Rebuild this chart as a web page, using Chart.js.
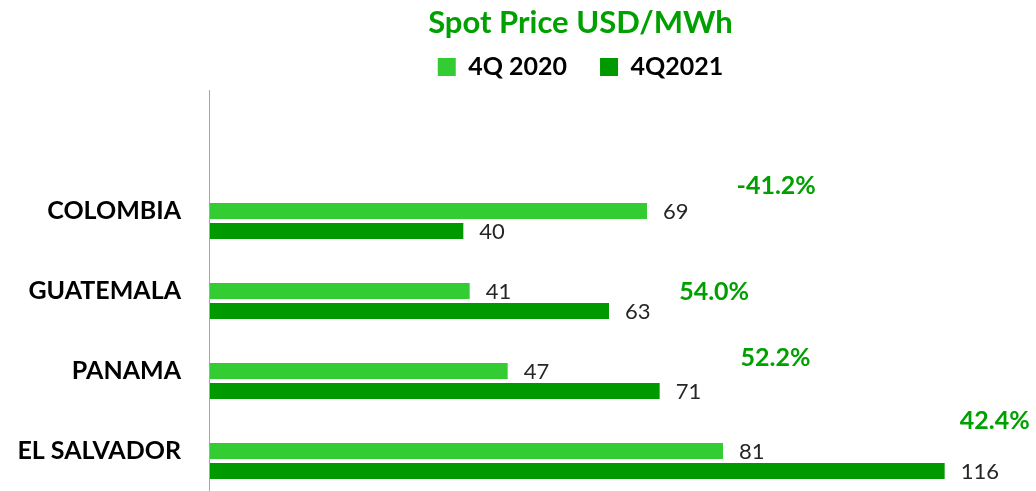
<!DOCTYPE html>
<html>
<head>
<meta charset="utf-8">
<script src="https://cdn.jsdelivr.net/npm/chart.js@4.4.1/dist/chart.umd.min.js"></script>
<style>
  html, body { margin: 0; padding: 0; background: #fff; }
  #wrap { width: 1036px; height: 491px; }
</style>
</head>
<body>
<div id="wrap"><canvas id="spotChart"></canvas></div>
<script>
const categories = ['COLOMBIA', 'GUATEMALA', 'PANAMA', 'EL SALVADOR'];
const price2020 = [69, 41, 47, 81];
const price2021 = [40, 63, 71, 116];
const changeLabels = ['-41.2%', '54.0%', '52.2%', '42.4%'];

// placement of the % labels (x in USD/MWh, y offset in px from category centre)
const changeAtX = [89.4, 79.6, 89.3, 123.9];
const changeDy = [-25, 1, -13, -30];

const GREEN_TEXT = '#00A000';

// draws the axis line, the bar values and the % change labels
const labelsPlugin = {
    id: 'barLabels',
    afterDatasetsDraw(chart) {
        const ctx = chart.ctx;
        const { left, bottom } = chart.chartArea;
        ctx.save();

        ctx.strokeStyle = '#A6A6A6';
        ctx.lineWidth = 1;
        ctx.beginPath();
        ctx.moveTo(left - 0.5, 90);
        ctx.lineTo(left - 0.5, bottom);
        ctx.stroke();

        ctx.font = '22px Lato';
        ctx.fillStyle = '#262626';
        ctx.textAlign = 'left';
        ctx.textBaseline = 'middle';
        [1, 2].forEach(d => {
            chart.getDatasetMeta(d).data.forEach((bar, i) => {
                ctx.fillText(chart.data.datasets[d].data[i], bar.x + 16, bar.y + 1);
            });
        });

        ctx.font = 'bold 25px Lato';
        ctx.fillStyle = GREEN_TEXT;
        ctx.textAlign = 'center';
        const xs = chart.scales.x, ys = chart.scales.y;
        changeLabels.forEach((t, i) => {
            ctx.fillText(t, xs.getPixelForValue(changeAtX[i]), ys.getPixelForValue(i) + changeDy[i]);
        });
        ctx.restore();
    }
};

const ctx = document.getElementById('spotChart').getContext('2d');
new Chart(ctx, {
    type: 'bar',
    data: {
        labels: categories,
        datasets: [
            // empty slot above each pair, same as the source chart
            { label: 'change', data: categories.map(() => null) },
            { label: '4Q 2020', data: price2020, backgroundColor: '#33CC33' },
            { label: '4Q2021', data: price2021, backgroundColor: '#009900' }
        ]
    },
    options: {
        indexAxis: 'y',
        responsive: true,
        maintainAspectRatio: false,
        animation: false,
        categoryPercentage: 0.75,
        barPercentage: 0.8,
        layout: { padding: { left: 0, right: 85, top: 0, bottom: 0 } },
        scales: {
            x: { display: false, min: 0, max: 117 },
            xTop: {
                position: 'top', axis: 'x',
                grid: { display: false, drawTicks: false },
                border: { display: false },
                ticks: { display: false },
                afterFit(s) { s.height = 81.4; }
            },
            y: {
                grid: { display: false, drawTicks: false },
                border: { display: false },
                ticks: { color: '#000', padding: 29, font: { family: 'Lato', size: 25, weight: 'bold' } },
                afterFit(s) {
                    s.width = 210;
                    s.paddingTop = 0;
                    s.paddingBottom = 0;
                }
            }
        },
        plugins: {
            title: {
                display: true,
                text: 'Spot Price USD/MWh',
                color: GREEN_TEXT,
                fullSize: false,
                font: { family: 'Lato', size: 31, weight: 'bold' },
                padding: { top: 4, bottom: -19.6 }
            },
            legend: {
                fullSize: false,
                labels: {
                    color: '#000',
                    boxWidth: 18, boxHeight: 18,
                    padding: 33,
                    font: { family: 'Lato', size: 25, weight: 'bold' },
                    filter: item => item.datasetIndex > 0
                }
            },
            tooltip: { enabled: false }
        }
    },
    plugins: [labelsPlugin]
});
</script>
</body>
</html>
